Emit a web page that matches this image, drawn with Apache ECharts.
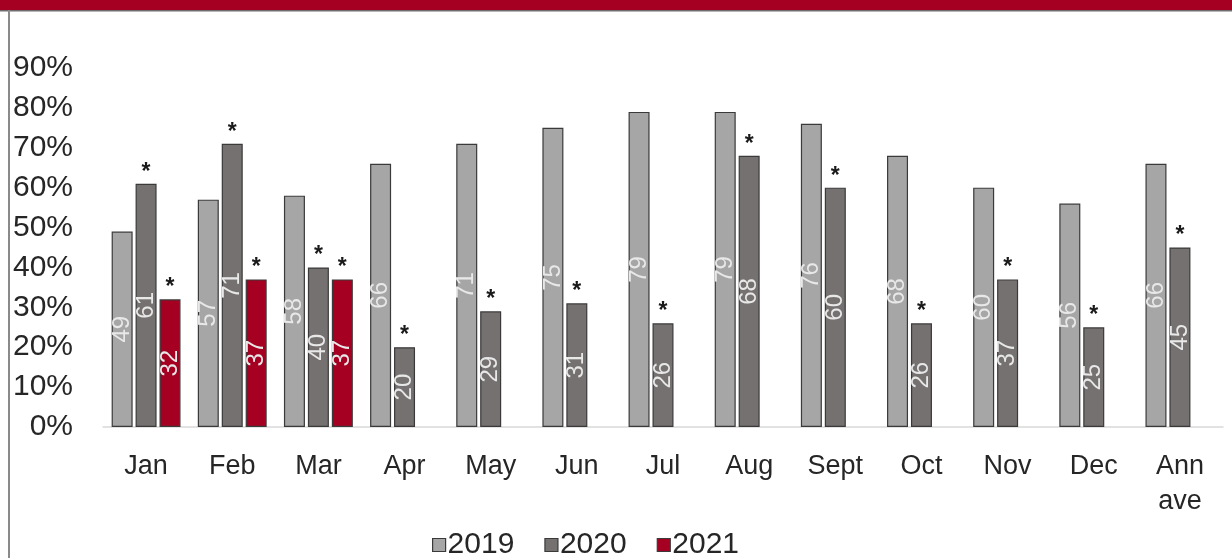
<!DOCTYPE html>
<html><head><meta charset="utf-8">
<script src="https://cdn.jsdelivr.net/npm/echarts@6/dist/echarts.min.js"></script>
<style>html,body{margin:0;padding:0;background:#fff}#c{width:1232px;height:558px}</style>
</head><body><div id="c"></div>
<script>
const categories = ['Jan','Feb','Mar','Apr','May','Jun','Jul','Aug','Sept','Oct','Nov','Dec','Ann\nave'];
const v2019 = [49,57,58,66,71,75,79,79,76,68,60,56,66];
const v2020 = [61,71,40,20,29,31,26,68,60,26,37,25,45];
const v2021 = [32,37,37,null,null,null,null,null,null,null,null,null,null];
const yTicks = [0,10,20,30,40,50,60,70,80,90];

const FONT = '"Liberation Sans", Arial, sans-serif';
const starOf = arr => arr.map(v => v == null ? null : 0);
const inLabel = {
  show: true, position: 'inside', rotate: 90, color: '#e8e8e8',
  fontSize: 24, fontFamily: FONT
};
const starLabel = {
  show: true, position: 'top', distance: 0, formatter: '*', color: '#1a1a1a',
  fontSize: 23, fontWeight: 'bold', fontFamily: FONT
};
const border = { borderColor: '#3a3a3a', borderWidth: 1.2 };

const chart = echarts.init(document.getElementById('c'), null, {renderer: 'canvas'});
chart.setOption({
  animation: false,
  textStyle: { fontFamily: FONT },
  graphic: [
    { type: 'rect', shape: { x: 0, y: 0, width: 1232, height: 10 }, style: { fill: '#a50021' } },
    { type: 'rect', shape: { x: 0, y: 10, width: 1232, height: 1.5 }, style: { fill: '#6e6e6e' } },
    { type: 'rect', shape: { x: 8, y: 10, width: 2, height: 548 }, style: { fill: '#8a8a8a' } }
  ],
  grid: { left: 103, right: 9, top: 68, bottom: 131, containLabel: false },
  legend: {
    data: ['2019','2020','2021'],
    top: 530, left: 432, padding: 0,
    icon: 'rect', itemWidth: 13, itemHeight: 13, itemGap: 30,
    itemStyle: { borderColor: '#3a3a3a', borderWidth: 1.2 },
    textStyle: { fontSize: 30, color: '#262626', fontFamily: FONT, padding: [0,0,0,-3] }
  },
  xAxis: {
    type: 'category', data: categories,
    axisLine: { show: true, lineStyle: { color: '#d9d9d9', width: 1.5 } },
    axisTick: { show: false },
    axisLabel: { fontSize: 27, color: '#262626', margin: 22, lineHeight: 35, fontFamily: FONT }
  },
  yAxis: {
    type: 'value', min: 0, max: 90, interval: 10,
    axisLine: { show: false }, axisTick: { show: false }, splitLine: { show: false },
    axisLabel: { formatter: '{value}%', fontSize: 30, color: '#262626', margin: 30, fontFamily: FONT }
  },
  series: [
    { name: '2019', type: 'bar', data: v2019, barWidth: 21, barGap: '14%',
      itemStyle: Object.assign({ color: '#a6a6a6' }, border), label: inLabel },
    { name: '2020', type: 'bar', stack: 's20', data: v2020, barWidth: 21, barGap: '14%',
      itemStyle: Object.assign({ color: '#767171' }, border), label: inLabel },
    { name: '2020*', type: 'bar', stack: 's20', data: starOf(v2020), barWidth: 21,
      itemStyle: { color: 'rgba(0,0,0,0)', borderWidth: 0 }, label: starLabel },
    { name: '2021', type: 'bar', stack: 's21', data: v2021, barWidth: 21, barGap: '14%',
      itemStyle: Object.assign({ color: '#a50021' }, border), label: inLabel },
    { name: '2021*', type: 'bar', stack: 's21', data: starOf(v2021), barWidth: 21,
      itemStyle: { color: 'rgba(0,0,0,0)', borderWidth: 0 }, label: starLabel }
  ]
});
</script></body></html>
